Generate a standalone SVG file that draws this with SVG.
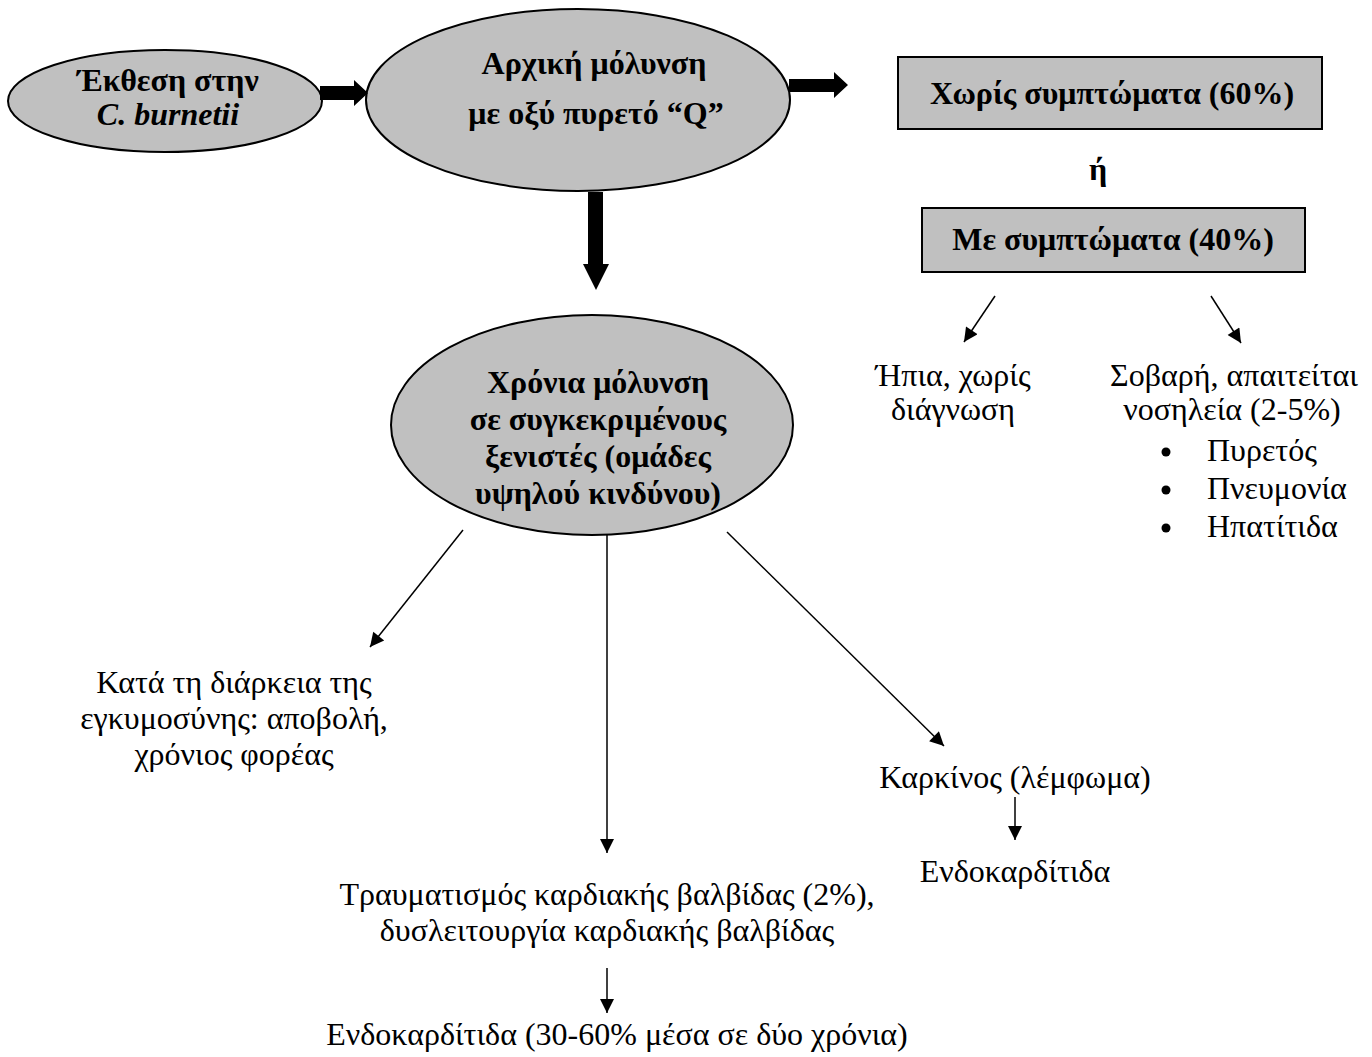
<svg xmlns="http://www.w3.org/2000/svg" width="1372" height="1057" viewBox="0 0 1372 1057">
<style>
.n{fill:#c0c0c0;stroke:#000;stroke-width:2}
.b{font-family:"Liberation Serif",serif;font-weight:bold;font-size:32px;text-anchor:middle;fill:#000}
.r{font-family:"Liberation Serif",serif;font-size:32px;text-anchor:middle;fill:#000}
.l{font-family:"Liberation Serif",serif;font-size:32px;fill:#000}
.t{stroke:#000;stroke-width:1.5;fill:none;marker-end:url(#ah)}
.k{fill:#000}
</style>
<defs>
<marker id="ah" viewBox="0 0 10 10" refX="10" refY="5" markerWidth="16" markerHeight="14" markerUnits="userSpaceOnUse" orient="auto"><path d="M0,0 L10,5 L0,10 z" fill="#000"/></marker>
</defs>
<rect width="1372" height="1057" fill="#fff"/>
<g id="exposure">
<ellipse class="n" cx="165" cy="101" rx="157" ry="51"/>
<text class="b" x="168" y="91">Έκθεση στην</text>
<text class="b" x="168" y="125" font-style="italic">C. burnetii</text>
</g>
<g id="initial">
<ellipse class="n" cx="578" cy="100" rx="212" ry="91"/>
<text class="b" x="594" y="74">Αρχική μόλυνση</text>
<text class="b" x="596" y="124">με οξύ πυρετό “Q”</text>
</g>
<g id="nosymptoms">
<rect class="n" x="898" y="57" width="424" height="72"/>
<text class="b" x="1112" y="104">Χωρίς συμπτώματα (60%)</text>
</g>
<g id="or"><text class="b" x="1098" y="180">ή</text></g>
<g id="symptoms">
<rect class="n" x="922" y="208" width="383" height="64"/>
<text class="b" x="1113" y="250">Με συμπτώματα (40%)</text>
</g>
<g id="mild">
<text class="r" x="953" y="386">Ήπια, χωρίς</text>
<text class="r" x="953" y="420">διάγνωση</text>
</g>
<g id="severe">
<text class="r" x="1234" y="386">Σοβαρή, απαιτείται</text>
<text class="r" x="1232" y="420">νοσηλεία (2-5%)</text>
<circle class="k" cx="1166" cy="452" r="4.5"/>
<circle class="k" cx="1166" cy="490" r="4.5"/>
<circle class="k" cx="1166" cy="528" r="4.5"/>
<text class="l" x="1207" y="461">Πυρετός</text>
<text class="l" x="1207" y="499">Πνευμονία</text>
<text class="l" x="1207" y="537">Ηπατίτιδα</text>
</g>
<g id="chronic">
<ellipse class="n" cx="592" cy="425" rx="201" ry="110"/>
<text class="b" x="598" y="393">Χρόνια μόλυνση</text>
<text class="b" x="598" y="430">σε συγκεκριμένους</text>
<text class="b" x="598" y="467">ξενιστές (ομάδες</text>
<text class="b" x="598" y="504">υψηλού κινδύνου)</text>
</g>
<g id="pregnancy">
<text class="r" x="234" y="693">Κατά τη διάρκεια της</text>
<text class="r" x="234" y="729">εγκυμοσύνης: αποβολή,</text>
<text class="r" x="234" y="765">χρόνιος φορέας</text>
</g>
<g id="cancer"><text class="r" x="1015" y="788">Καρκίνος (λέμφωμα)</text></g>
<g id="endo1"><text class="r" x="1015" y="882">Ενδοκαρδίτιδα</text></g>
<g id="valve">
<text class="r" x="607" y="905">Τραυματισμός καρδιακής βαλβίδας (2%),</text>
<text class="r" x="607" y="941">δυσλειτουργία καρδιακής βαλβίδας</text>
</g>
<g id="endo2"><text class="r" x="617" y="1045">Ενδοκαρδίτιδα (30-60% μέσα σε δύο χρόνια)</text></g>
<g id="connectors">
<path class="k" d="M320,86 H354 V80 L368,93 L354,106 V100 H320 z"/>
<path class="k" d="M789,79 H834 V72 L848,85 L834,98 V92 H789 z"/>
<path class="k" d="M588,192 H603 V264 H609 L596,290 L583,264 H588 z"/>
<line class="t" x1="995" y1="296" x2="964" y2="342"/>
<line class="t" x1="1211" y1="296" x2="1241" y2="343"/>
<line class="t" x1="463" y1="530" x2="370" y2="647"/>
<line class="t" x1="607" y1="535" x2="607" y2="853"/>
<line class="t" x1="727" y1="532" x2="944" y2="746"/>
<line class="t" x1="1015" y1="797" x2="1015" y2="840"/>
<line class="t" x1="607" y1="968" x2="607" y2="1013"/>
</g>
</svg>
